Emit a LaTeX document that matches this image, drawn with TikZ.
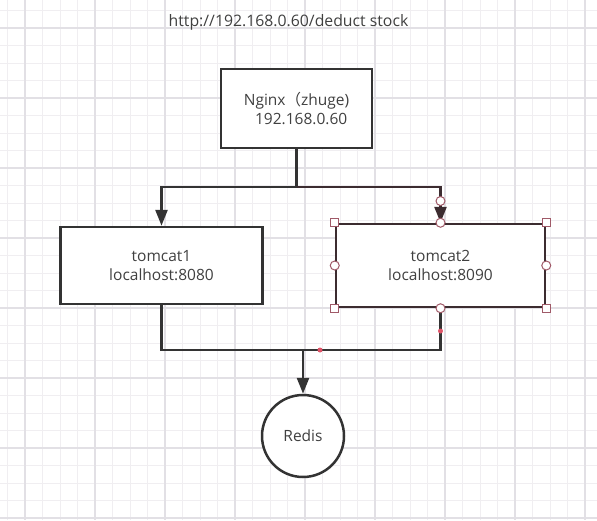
\documentclass[tikz,border=0pt]{standalone}
\usepackage{fontspec}
\setmainfont{Open Sans}
\newfontfamily\cjk{Noto Sans CJK SC}
\usetikzlibrary{arrows.meta}
\definecolor{txt}{HTML}{404040}
\definecolor{ln}{HTML}{333333}
\definecolor{selln}{HTML}{3C2C30}
\definecolor{handle}{HTML}{A05A68}
\definecolor{reddot}{HTML}{E05468}
\definecolor{gminor}{HTML}{F0EEF1}
\definecolor{gmajor}{HTML}{E2E0E5}
\tikzset{
  minorgrid/.style={gminor, line width=1pt},
  majorgrid/.style={gmajor, line width=1.6pt},
  boxnode/.style={draw=ln, line width=2.5pt, fill=white, text=txt, align=center,
    font=\fontsize{15.5}{19}\selectfont, inner sep=0pt},
  conn/.style={draw=ln, line width=2.5pt},
  arr/.style={conn, -{Triangle[length=16pt,width=12pt]}},
  sqhandle/.style={draw=handle, fill=white, line width=1pt},
  cihandle/.style={draw=handle, fill=white, line width=1pt, circle, inner sep=0pt, minimum size=9pt},
}
\begin{document}
\begin{tikzpicture}[x=1pt,y=-1pt]
\useasboundingbox (0,0) rectangle (597,520);
\fill[white] (0,0) rectangle (597,520);
% grid
\foreach \k in {0,...,33} \draw[minorgrid] ({7.5+17.5*\k},0) -- ({7.5+17.5*\k},520);
\foreach \k in {0,...,29} \draw[minorgrid] (0,{10.5+17.5*\k}) -- (597,{10.5+17.5*\k});
\foreach \x in {25,95,165,235,305,375,445,515,585} \draw[majorgrid] (\x,0) -- (\x,520);
\foreach \y in {28,98,168,238,308,378,448,518} \draw[majorgrid] (0,\y) -- (597,\y);
% title
\node[text=txt, font=\fontsize{15.8}{18}\selectfont, inner sep=0pt] (title) at (288.5,22) {http://192.168.0.60/deduct stock};
% nodes
\node[boxnode, minimum width=151pt, minimum height=79pt] (nginx) at (296.5,108.5)
  {Nginx{\cjk （}zhuge)\\\hspace*{0.6em}192.168.0.60};
\node[boxnode, minimum width=202pt, minimum height=77pt] (t1) at (161.5,265.5)
  {tomcat1\\localhost:8080};
\node[boxnode, draw=selln, minimum width=209pt, minimum height=83pt] (t2) at (440.5,265.5)
  {tomcat2\\localhost:8090};
\node[boxnode, circle, minimum size=82pt] (redis) at (303,436) {Redis};
% connectors
\coordinate (j1) at (296.5,187);
\coordinate (j2) at (303,350);
\draw[conn] (nginx.south) -- (j1);
\draw[arr] (j1) -| (t1.north);
\draw[arr, draw=selln] (j1) -| (t2.north);
\draw[conn] (t1.south) |- (j2);
\draw[conn] (t2.south) |- (j2);
\draw[arr] (j2) -- (redis.north);
% selection handles on tomcat2
\foreach \a in {north west, north east, south west, south east}
  \draw[sqhandle] ([xshift=-4pt,yshift=-4pt]t2.\a) rectangle ([xshift=4pt,yshift=4pt]t2.\a);
\foreach \a in {north, south, west, east}
  \node[cihandle] at (t2.\a) {};
\node[cihandle] (h1) at (440.5,201) {};
% red dots
\fill[reddot] (440.5,331) circle (2.5pt);
\fill[reddot] (320,350) circle (2.5pt);
\end{tikzpicture}
\end{document}
